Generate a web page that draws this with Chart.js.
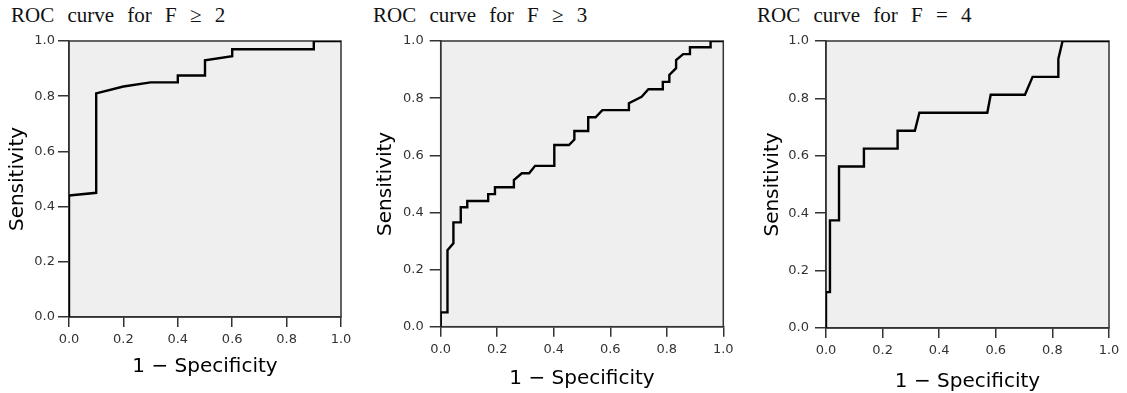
<!DOCTYPE html>
<html>
<head>
<meta charset="utf-8">
<script src="https://cdn.jsdelivr.net/npm/chart.js@4.4.1/dist/chart.umd.min.js"></script>
<style>
  html, body { margin: 0; padding: 0; background: #ffffff; }
  body { width: 1127px; height: 393px; position: relative; overflow: hidden; }
  canvas { position: absolute; top: 0; }
  .ttl { position: absolute; top: 5px; font-family: "Liberation Serif", "DejaVu Serif", serif; font-size: 21px; line-height: 21px; color: #111; word-spacing: 8px; white-space: nowrap; }
</style>
</head>
<body>
<div class="ttl" id="t1" style="left:11px">ROC curve for F ≥ 2</div>
<div class="ttl" id="t2" style="left:373px">ROC curve for F ≥ 3</div>
<div class="ttl" id="t3" style="left:757px">ROC curve for F = 4</div>
<canvas id="c1" width="360" height="393" style="left:0px"></canvas>
<canvas id="c2" width="375" height="393" style="left:365px"></canvas>
<canvas id="c3" width="382" height="393" style="left:745px"></canvas>
<script>
// ---- Data ----
const panelTitles = ["ROC curve for F \u2265 2", "ROC curve for F \u2265 3", "ROC curve for F = 4"];
const xAxisTitle = "1 \u2212 Specificity";
const yAxisTitle = "Sensitivity";
const tickValues = [0.0, 0.2, 0.4, 0.6, 0.8, 1.0];

// ROC curve for F >= 2
const roc1X = [0, 0, 0.10, 0.10, 0.20, 0.30, 0.40, 0.40, 0.50, 0.50, 0.60, 0.60, 0.90, 0.90, 1.00];
const roc1Y = [0, 0.44, 0.45, 0.81, 0.835, 0.85, 0.85, 0.875, 0.875, 0.93, 0.945, 0.97, 0.97, 1.00, 1.00];

// ROC curve for F >= 3
const roc2X = [0, 0, 0.024, 0.024, 0.045, 0.045, 0.071, 0.071, 0.094, 0.094, 0.168, 0.168, 0.192, 0.192,
  0.259, 0.259, 0.287, 0.313, 0.334, 0.402, 0.402, 0.454, 0.473, 0.473, 0.522, 0.522, 0.548, 0.572,
  0.666, 0.666, 0.711, 0.735, 0.786, 0.786, 0.809, 0.809, 0.833, 0.833, 0.858, 0.882, 0.882, 0.955, 0.955, 1.00];
const roc2Y = [0, 0.05, 0.05, 0.268, 0.292, 0.365, 0.365, 0.418, 0.418, 0.44, 0.44, 0.464, 0.464, 0.488,
  0.488, 0.513, 0.537, 0.537, 0.563, 0.563, 0.636, 0.636, 0.655, 0.685, 0.685, 0.733, 0.733, 0.758,
  0.758, 0.782, 0.805, 0.831, 0.831, 0.857, 0.857, 0.881, 0.905, 0.933, 0.954, 0.954, 0.978, 0.978, 1.00, 1.00];

// ROC curve for F = 4
const roc3X = [0, 0, 0.014, 0.014, 0.046, 0.046, 0.134, 0.134, 0.253, 0.253, 0.314, 0.330, 0.570, 0.582,
  0.703, 0.730, 0.821, 0.821, 0.836, 1.00];
const roc3Y = [0, 0.125, 0.125, 0.375, 0.375, 0.5625, 0.5625, 0.625, 0.625, 0.6875, 0.6875, 0.75, 0.75, 0.8125,
  0.8125, 0.875, 0.875, 0.9375, 1.00, 1.00];

// ---- Plugin: plot-area background and frame ----
const plotFrame = {
  id: 'plotFrame',
  beforeDraw(chart) {
    const a = chart.chartArea, ctx = chart.ctx;
    ctx.save();
    ctx.fillStyle = '#efefef';
    ctx.fillRect(a.left, a.top, a.right - a.left, a.bottom - a.top);
    ctx.restore();
  },
  beforeDatasetsDraw(chart) {
    const a = chart.chartArea, ctx = chart.ctx;
    ctx.save();
    ctx.strokeStyle = '#333';
    ctx.lineWidth = 1.5;
    ctx.strokeRect(a.left, a.top, a.right - a.left, a.bottom - a.top);
    ctx.restore();
  }
};

function makeChart(id, xs, ys, lay) {
  const pts = xs.map((x, i) => ({ x: x, y: ys[i] }));
  return new Chart(document.getElementById(id), {
    type: 'scatter',
    data: {
      datasets: [{
        data: pts,
        showLine: true,
        borderColor: '#000',
        borderWidth: 2.4,
        pointRadius: 0,
        tension: 0,
        fill: false
      }]
    },
    options: {
      responsive: false,
      animation: false,
      devicePixelRatio: 1,
      layout: { padding: lay.padding },
      plugins: { legend: { display: false }, tooltip: { enabled: false }, title: { display: false } },
      scales: {
        x: {
          type: 'linear', min: 0, max: 1,
          afterBuildTicks: s => { s.ticks = tickValues.map(v => ({ value: v })); },
          afterFit: s => { s.height = lay.xh; },
          ticks: {
            callback: v => Number(v).toFixed(1),
            font: { family: 'DejaVu Sans', size: 13 },
            color: '#333', padding: 5, maxRotation: 0, autoSkip: false
          },
          grid: { drawOnChartArea: false, drawTicks: true, tickLength: 10, color: '#333', lineWidth: 1.5 },
          border: { display: true, color: '#333', width: 1.5 },
          title: { display: true, text: xAxisTitle, color: '#000',
                   font: { family: 'DejaVu Sans', size: 20, lineHeight: 1 }, padding: 0 }
        },
        y: {
          type: 'linear', min: 0, max: 1,
          afterBuildTicks: s => { s.ticks = tickValues.map(v => ({ value: v })); },
          afterFit: s => { s.width = lay.yw; },
          ticks: {
            callback: v => Number(v).toFixed(1),
            font: { family: 'DejaVu Sans', size: 13 },
            color: '#333', padding: lay.ypad, autoSkip: false
          },
          grid: { drawOnChartArea: false, drawTicks: true, tickLength: 11, color: '#333', lineWidth: 1.5 },
          border: { display: true, color: '#333', width: 1.5 },
          title: { display: true, text: yAxisTitle, color: '#000',
                   font: { family: 'DejaVu Sans', size: 20, lineHeight: 1 }, padding: 0 }
        }
      }
    },
    plugins: [plotFrame]
  });
}

makeChart('c1', roc1X, roc1Y, { padding: { left: 7.5, top: 41, right: 19, bottom: 16 }, yw: 61.5, xh: 60, ypad: 3 });
makeChart('c2', roc2X, roc2Y, { padding: { left: 11, top: 41, right: 16.7, bottom: 4 }, yw: 64.7, xh: 62.3, ypad: 6 });
makeChart('c3', roc3X, roc3Y, { padding: { left: 17.5, top: 41, right: 18, bottom: 1 }, yw: 63.5, xh: 64, ypad: 6 });
</script>
</body>
</html>
